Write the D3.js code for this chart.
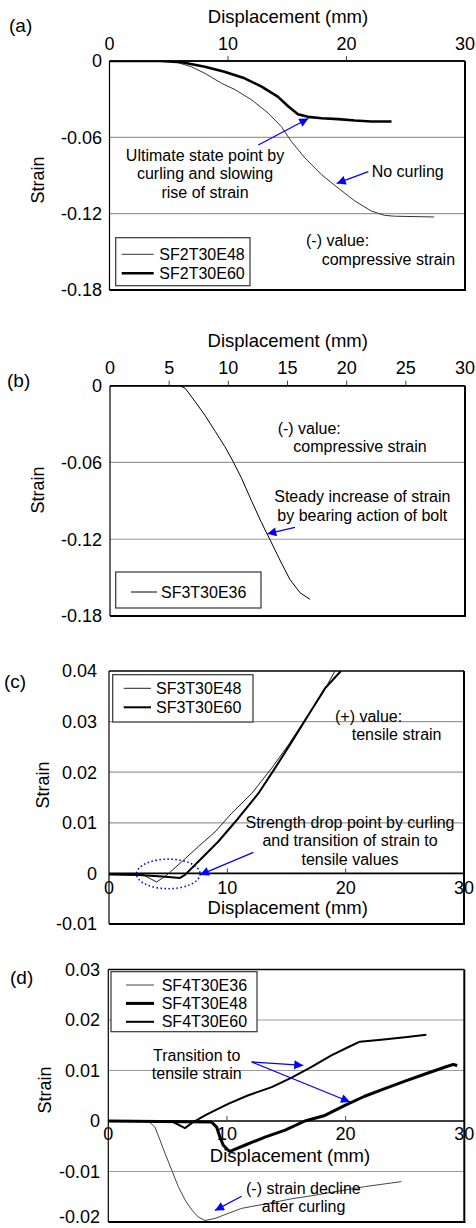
<!DOCTYPE html>
<html><head><meta charset="utf-8">
<script src="https://cdn.jsdelivr.net/npm/d3@7"></script>
<style>
html,body{margin:0;padding:0;background:#fff;}
svg text{font-family:"Liberation Sans",Arial,Helvetica,sans-serif;fill:#000;}
</style></head>
<body>
<svg id="chart" width="476" height="1228"></svg>
<script>
// ---------- data ----------
const xTicks = [0, 10, 20, 30];
const xTicksB = [0, 5, 10, 15, 20, 25, 30];
const yTicksAB = [0, -0.06, -0.12, -0.18];
const yTicksC = [0.04, 0.03, 0.02, 0.01, 0, -0.01];
const yTicksD = [0.03, 0.02, 0.01, 0, -0.01, -0.02];

// (a)
const SF2T30E48 = [[0,0],[4.25,0],[5.5,-0.0005],[6.9,-0.0045],[8.05,-0.0097],[9.45,-0.0175],[10.6,-0.0225],[12.0,-0.0306],[13.4,-0.041],[14.5,-0.0515],[15.35,-0.0633],[16.5,-0.0763],[17.9,-0.0894],[19.3,-0.0999],[20.7,-0.110],[22.1,-0.118],[23.2,-0.1213],[24.05,-0.122],[27.4,-0.1226]];
const SF2T30E60 = [[0,0],[4.25,0],[6.1,-0.001],[8.05,-0.0045],[9.7,-0.0084],[11.4,-0.0136],[12.8,-0.020],[14.2,-0.028],[15.1,-0.0358],[15.9,-0.0418],[16.75,-0.0439],[17.9,-0.045],[19.3,-0.0457],[20.7,-0.0468],[22.1,-0.0476],[23.8,-0.0476]];
// (b)
const SF3T30E36 = [[0,0],[5.9,0],[6.35,-0.002],[7.2,-0.0125],[8.0,-0.0228],[8.9,-0.0358],[9.7,-0.0475],[10.4,-0.0592],[11.1,-0.072],[11.98,-0.0904],[12.8,-0.107],[13.5,-0.120],[14.4,-0.137],[15.2,-0.1514],[16.06,-0.1618],[16.9,-0.167]];
// (c)
const SF3T30E48 = [[0,-0.0002],[2.9,-0.0003],[4.03,-0.0017],[4.9,-0.0003],[6.15,0.0023],[7.55,0.0053],[8.96,0.0082],[10.37,0.0119],[12.06,0.0158],[13.75,0.0208],[15.16,0.0254],[16.57,0.0304],[17.98,0.0353],[19.1,0.04]];
const SF3T30E60 = [[0,-0.0002],[2.5,-0.0003],[4.5,-0.0006],[6.0,-0.0009],[6.42,-0.0003],[7.83,0.003],[9.24,0.0063],[10.93,0.0109],[12.62,0.0158],[14.03,0.0208],[15.44,0.026],[16.85,0.0313],[18.26,0.0366],[19.6,0.04]];
// (d)
const SF4T30E36 = [[0,0],[3.37,0],[3.93,-0.0012],[4.36,-0.0038],[4.78,-0.0064],[5.34,-0.0097],[5.9,-0.013],[6.46,-0.0156],[7.03,-0.0176],[7.58,-0.019],[8.15,-0.0197],[8.99,-0.0193],[10.1,-0.0183],[11.24,-0.0173],[12.36,-0.0168],[13.77,-0.0162],[15.45,-0.0154],[17.13,-0.0148],[19.38,-0.0139],[21.6,-0.013],[24.7,-0.012]];
const SF4T30E48 = [[0,0],[8.7,-0.0002],[9.13,-0.0012],[9.41,-0.0032],[9.69,-0.0048],[10.1,-0.0058],[10.24,-0.006],[11.5,-0.0048],[13.2,-0.0032],[14.9,-0.0018],[16.57,0],[18.25,0.0011],[19.94,0.0031],[21.6,0.0049],[23.3,0.0064],[25.0,0.0079],[26.7,0.0093],[28.4,0.0107],[29.07,0.0112],[29.4,0.011]];
const SF4T30E60 = [[0,0],[5.3,0],[6.46,-0.0014],[7.16,-0.0002],[8.15,0.0011],[8.99,0.0021],[10.1,0.0034],[11.8,0.0051],[13.77,0.0067],[15.45,0.0086],[17.13,0.0107],[18.8,0.013],[20.2,0.0146],[21.2,0.0157],[23.0,0.0161],[25.0,0.0166],[26.8,0.0171]];

// ---------- drawing ----------
const svg = d3.select("#chart");
const defs = svg.append("defs");
defs.append("marker").attr("id","ah").attr("viewBox","0 0 10 10").attr("refX",10).attr("refY",5)
  .attr("markerWidth",11).attr("markerHeight",9).attr("markerUnits","userSpaceOnUse").attr("orient","auto")
  .append("path").attr("d","M0,0L10,5L0,10Z").attr("fill","#0000ff");

const fmt2 = d => d === 0 ? "0" : d3.format(".2f")(d).replace("\u2212", "-");

let clipId = 0;
function panel(cfg){
  const x = d3.scaleLinear().domain([0,30]).range([cfg.x0, cfg.x1]);
  const y = d3.scaleLinear().domain(cfg.yDomain).range([cfg.yBottom, cfg.yTop]);
  const g = svg.append("g");
  const cid = "clip" + (clipId++);
  defs.append("clipPath").attr("id",cid).append("rect")
    .attr("x",cfg.x0).attr("y",cfg.yTop).attr("width",cfg.x1-cfg.x0).attr("height",cfg.yBottom-cfg.yTop);

  // gridlines
  g.append("g").selectAll("line").data(cfg.grid).join("line")
    .attr("x1",cfg.x0).attr("x2",cfg.x1).attr("y1",d=>y(d)).attr("y2",d=>y(d))
    .attr("stroke","#9a9a9a").attr("stroke-width",1.2);

  // y tick labels
  g.append("g").selectAll("text").data(cfg.yTicks).join("text")
    .attr("x",cfg.yLabelX).attr("y",d=>Math.min(y(d), 1217)).attr("dy","0.35em").attr("text-anchor","end")
    .attr("font-size",18).text(fmt2);

  // x axis
  const xAxisY = cfg.xAxisAt === "top" ? cfg.yTop : y(0);
  const xa = g.append("g").attr("transform",`translate(0,${xAxisY})`);
  xa.append("line").attr("x1",cfg.x0).attr("x2",cfg.x1).attr("stroke","#000").attr("stroke-width",1.6);
  xa.selectAll("line.t").data(cfg.xTicks.filter(d=>d>0 && d<30)).join("line").attr("class","t")
    .attr("x1",d=>x(d)).attr("x2",d=>x(d)).attr("y1",0).attr("y2",-5).attr("stroke","#444").attr("stroke-width",1);
  xa.selectAll("text").data(cfg.xTicks).join("text")
    .attr("x",d=>x(d)).attr("y",cfg.xLabelDy).attr("dy","0.35em").attr("text-anchor","middle")
    .attr("font-size",18).text(d=>d);

  // frame
  g.append("line").attr("x1",cfg.x0).attr("x2",cfg.x0).attr("y1",cfg.yTop).attr("y2",cfg.yBottom).attr("stroke","#000").attr("stroke-width",1.2);
  g.append("line").attr("x1",cfg.x1).attr("x2",cfg.x1).attr("y1",cfg.yTop).attr("y2",cfg.yBottom+1).attr("stroke","#000").attr("stroke-width",2);
  g.append("line").attr("x1",cfg.x0).attr("x2",cfg.x1+1).attr("y1",cfg.yBottom).attr("y2",cfg.yBottom).attr("stroke","#000").attr("stroke-width",2);
  g.append("line").attr("x1",cfg.x0).attr("x2",cfg.x1).attr("y1",cfg.yTop).attr("y2",cfg.yTop).attr("stroke","#000").attr("stroke-width",1.5);

  // titles
  g.append("text").attr("x",cfg.xTitle[0]).attr("y",cfg.xTitle[1]).attr("dy","0.35em").attr("text-anchor","middle")
    .attr("font-size",18.5).text("Displacement (mm)");
  g.append("text").attr("transform",`translate(${cfg.yTitle[0]},${cfg.yTitle[1]}) rotate(-90)`).attr("dy","0.35em")
    .attr("text-anchor","middle").attr("font-size",18).text("Strain");
  g.append("text").attr("x",cfg.label[0]).attr("y",cfg.label[1]).attr("dy","0.35em").attr("font-size",19).text(cfg.labelText);

  // series
  const line = d3.line().x(d=>x(d[0])).y(d=>y(d[1]));
  const sg = g.append("g").attr("clip-path",`url(#${cid})`);
  cfg.series.forEach(s=>{
    sg.append("path").datum(s.data).attr("d",line).attr("fill","none")
      .attr("stroke",s.color).attr("stroke-width",s.w).attr("stroke-linejoin","round");
  });

  // legend
  const L = cfg.legend;
  g.append("rect").attr("x",L.x).attr("y",L.y).attr("width",L.w).attr("height",L.h)
    .attr("fill","#fff").attr("stroke","#333").attr("stroke-width",1.2);
  cfg.series.forEach((s,i)=>{
    const yy = L.y + L.first + i*L.step;
    g.append("line").attr("x1",L.x+L.lx0).attr("x2",L.x+L.lx1).attr("y1",yy).attr("y2",yy)
      .attr("stroke",s.color).attr("stroke-width",s.w);
    g.append("text").attr("x",L.x+L.tx).attr("y",yy).attr("dy","0.35em").attr("font-size",16).text(s.name);
  });

  // annotations
  (cfg.texts||[]).forEach(t=>{
    g.append("text").attr("x",t[0]).attr("y",t[1]).attr("dy","0.35em").attr("text-anchor",t[3]||"start")
      .attr("font-size",16).text(t[2]);
  });
  (cfg.arrows||[]).forEach(a=>{
    g.append("line").attr("x1",x(a[0])).attr("y1",y(a[1])).attr("x2",x(a[2])).attr("y2",y(a[3]))
      .attr("stroke","#0000ff").attr("stroke-width",1.3).attr("marker-end","url(#ah)");
  });
  if (cfg.ellipse){
    const e = cfg.ellipse;
    g.append("ellipse").attr("cx",x(e[0])).attr("cy",y(e[1])).attr("rx",e[2]).attr("ry",e[3])
      .attr("fill","none").attr("stroke","#0000ff").attr("stroke-width",1.6).attr("stroke-dasharray","1.5,2.5");
  }
  return {x,y};
}

panel({
  x0:109.5, x1:465, yTop:61, yBottom:290, yDomain:[-0.18,0],
  grid:[-0.06,-0.12], yTicks:yTicksAB, yLabelX:102,
  xAxisAt:"top", xTicks:xTicks, xLabelDy:-17,
  xTitle:[288,17], yTitle:[38,180], label:[9,25], labelText:"(a)",
  series:[{name:"SF2T30E48",data:SF2T30E48,color:"#333",w:1},{name:"SF2T30E60",data:SF2T30E60,color:"#000",w:2.6}],
  legend:{x:115.7,y:237.7,w:134.3,h:48,first:16.6,step:19,lx0:6,lx1:38,tx:43.6},
  texts:[[205,155,"Ultimate state point by","middle"],[205,173.7,"curling and slowing","middle"],[205,192,"rise of strain","middle"],
         [371.7,171.7,"No curling"],[306,240.7,"(-) value:"],[321.7,259,"compressive strain"]],
  arrows:[[12.56,-0.066,16.78,-0.0452],[21.84,-0.087,19.17,-0.0962]]
});

panel({
  x0:110, x1:465, yTop:385.7, yBottom:616, yDomain:[-0.18,0],
  grid:[-0.06,-0.12], yTicks:yTicksAB, yLabelX:102,
  xAxisAt:"top", xTicks:xTicksB, xLabelDy:-17.7,
  xTitle:[287.7,340.7], yTitle:[38,490], label:[7,380], labelText:"(b)",
  series:[{name:"SF3T30E36",data:SF3T30E36,color:"#000",w:1}],
  legend:{x:115.7,y:572,w:145.3,h:36,first:20,step:19,lx0:15.3,lx1:41.3,tx:45.3},
  texts:[[277.7,428.3,"(-) value:"],[293.3,446.7,"compressive strain"],
         [362.3,496.7,"Steady increase of strain","middle"],[362.3,515.7,"by bearing action of bolt","middle"]],
  arrows:[[15.63,-0.1107,13.29,-0.1158]]
});

panel({
  x0:109, x1:464, yTop:671, yBottom:924, yDomain:[-0.01,0.04],
  grid:[0.03,0.02,0.01], yTicks:yTicksC, yLabelX:97,
  xAxisAt:"zero", xTicks:xTicks, xLabelDy:14,
  xTitle:[287.7,908], yTitle:[43,785], label:[4,681], labelText:"(c)",
  series:[{name:"SF3T30E48",data:SF3T30E48,color:"#222",w:1},{name:"SF3T30E60",data:SF3T30E60,color:"#000",w:2}],
  legend:{x:112.7,y:674.7,w:140.3,h:47.3,first:13.6,step:19,lx0:11,lx1:38.3,tx:43.3},
  texts:[[335,716.7,"(+) value:"],[351.7,734.3,"tensile strain"],
         [350,822.7,"Strength drop point by curling","middle"],[350,840.7,"and transition of strain to","middle"],[350,859.3,"tensile values","middle"]],
  arrows:[[12.2,0.00415,7.69,-0.0003]],
  ellipse:[5.01,-0.0001,31.7,14.8]
});

panel({
  x0:108.3, x1:464.3, yTop:969.5, yBottom:1222, yDomain:[-0.02,0.03],
  grid:[0.02,0.01,-0.01], yTicks:yTicksD, yLabelX:100,
  xAxisAt:"zero", xTicks:xTicks, xLabelDy:12.5,
  xTitle:[290,1155.7], yTitle:[45,1090], label:[10,977.3], labelText:"(d)",
  series:[{name:"SF4T30E36",data:SF4T30E36,color:"#444",w:1},{name:"SF4T30E48",data:SF4T30E48,color:"#000",w:3},{name:"SF4T30E60",data:SF4T30E60,color:"#000",w:2}],
  legend:{x:111,y:971.7,w:146,h:60,first:13.3,step:18.4,lx0:15,lx1:43,tx:50.7},
  texts:[[196.7,1055.7,"Transition to","middle"],[196.7,1073.3,"tensile strain","middle"],
         [246,1188.3,"(-) strain decline"],[261.7,1206.7,"after curling"]],
  arrows:[[12.08,0.0117,16.43,0.011],[12.08,0.0117,20.37,0.00376],[11.24,-0.0149,8.99,-0.0177]]
});
</script>
</body></html>
